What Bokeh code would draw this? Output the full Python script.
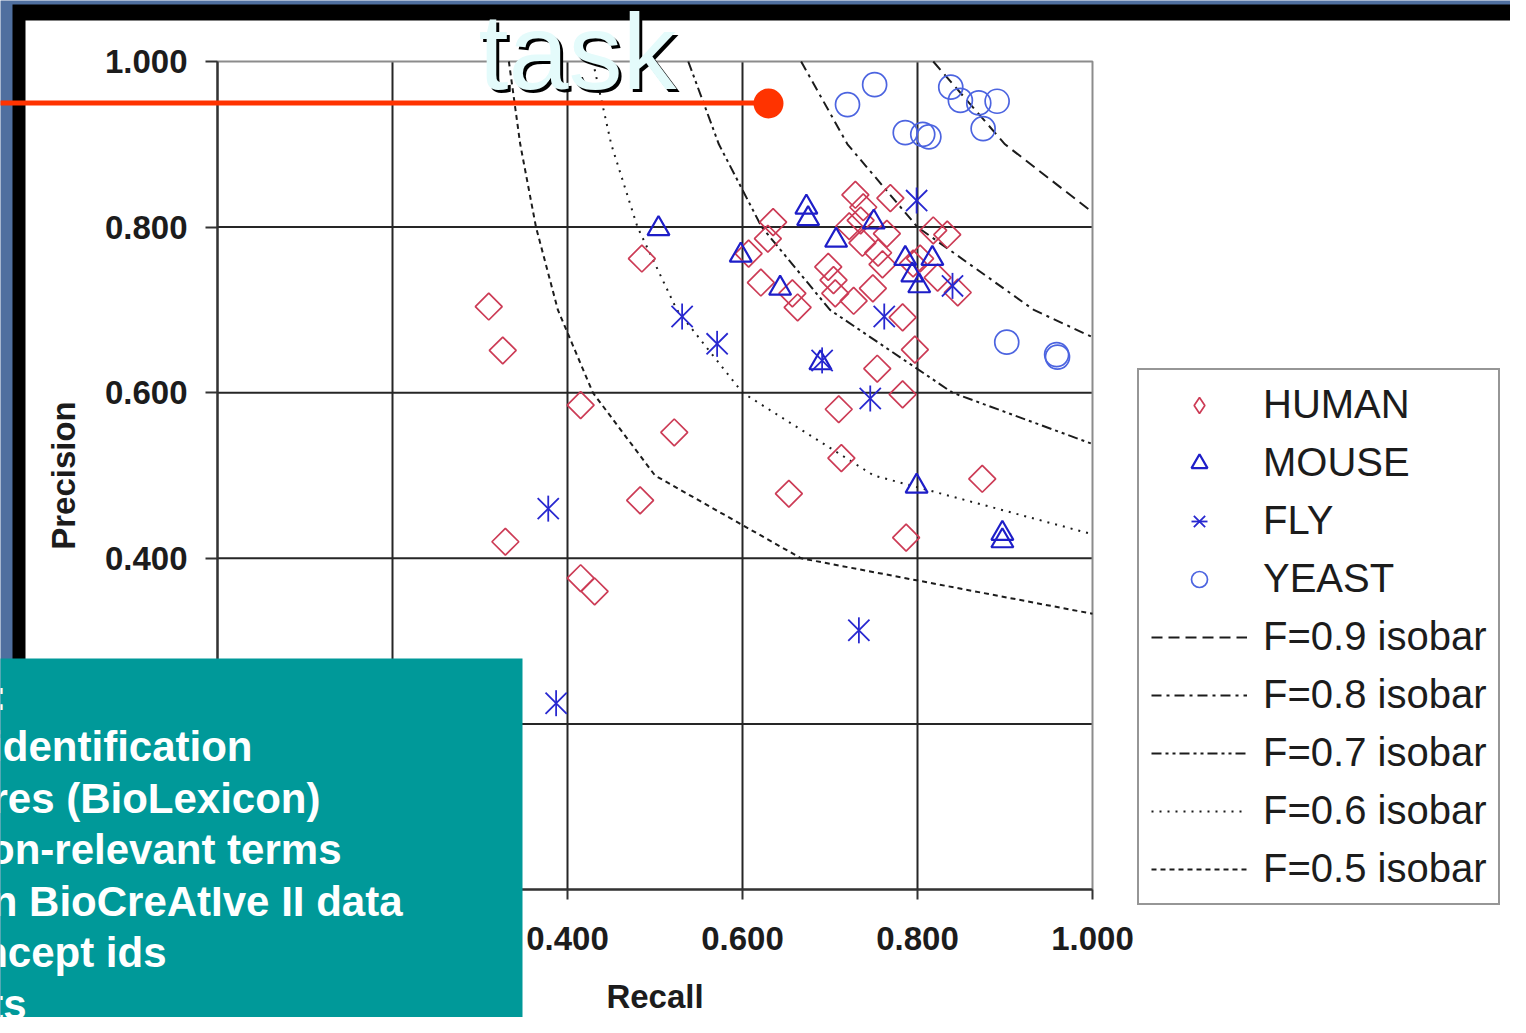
import numpy as np
from bokeh.plotting import figure
from bokeh.models import (Range1d, FixedTicker, NumeralTickFormatter, Legend, LegendItem,
                          BoxAnnotation, Label)
from bokeh.embed import file_html
from bokeh.resources import INLINE

# ---------------- data ----------------
human_recall = [0.310, 0.326, 0.485, 0.415, 0.522, 0.483, 0.329, 0.415, 0.431, 0.653,
                0.710, 0.713, 0.754, 0.783, 0.797, 0.787, 0.874, 0.635, 0.629, 0.607,
                0.621, 0.657, 0.663, 0.698, 0.704, 0.706, 0.727, 0.749, 0.760, 0.729,
                0.738, 0.769, 0.735, 0.737, 0.765, 0.783, 0.818, 0.834, 0.803, 0.823,
                0.846, 0.722, 0.755, 0.795]
human_precision = [0.704, 0.651, 0.762, 0.585, 0.552, 0.470, 0.420, 0.376, 0.360, 0.478,
                   0.580, 0.521, 0.629, 0.598, 0.652, 0.425, 0.496, 0.806, 0.786, 0.768,
                   0.733, 0.720, 0.703, 0.752, 0.736, 0.720, 0.711, 0.726, 0.755, 0.839,
                   0.824, 0.835, 0.808, 0.781, 0.792, 0.691, 0.796, 0.791, 0.762, 0.739,
                   0.721, 0.801, 0.769, 0.756]

mouse_recall = [0.504, 0.598, 0.673, 0.675, 0.707, 0.643, 0.750, 0.786, 0.817, 0.794,
                0.802, 0.689, 0.799, 0.897, 0.897]
mouse_precision = [0.798, 0.766, 0.824, 0.810, 0.784, 0.726, 0.806, 0.762, 0.762, 0.742,
                   0.729, 0.636, 0.487, 0.421, 0.430]

fly_recall = [0.378, 0.387, 0.531, 0.571, 0.691, 0.746, 0.733, 0.762, 0.799, 0.840]
fly_precision = [0.460, 0.225, 0.692, 0.659, 0.639, 0.593, 0.313, 0.692, 0.832, 0.729]

yeast_recall = [0.720, 0.751, 0.786, 0.806, 0.813, 0.838, 0.849, 0.870, 0.891, 0.875,
                0.902, 0.959, 0.960]
yeast_precision = [0.948, 0.972, 0.914, 0.912, 0.909, 0.969, 0.953, 0.950, 0.952, 0.919,
                   0.661, 0.646, 0.643]

iso09_recall = [0.818, 0.900, 1.000]
iso09_precision = [1.000, 0.900, 0.818]
iso08_recall = [0.667, 0.720, 0.800, 0.933, 1.000]
iso08_precision = [1.000, 0.900, 0.800, 0.700, 0.667]
iso07_recall = [0.538, 0.573, 0.622, 0.700, 0.840, 1.000]
iso07_precision = [1.000, 0.900, 0.800, 0.700, 0.600, 0.538]
iso06_recall = [0.429, 0.450, 0.480, 0.525, 0.600, 0.750, 1.000]
iso06_precision = [1.000, 0.900, 0.800, 0.700, 0.600, 0.500, 0.429]
iso05_recall = [0.333, 0.346, 0.364, 0.389, 0.429, 0.500, 0.667, 1.000]
iso05_precision = [1.000, 0.900, 0.800, 0.700, 0.600, 0.500, 0.400, 0.333]

axis_ticks = [0.0, 0.2, 0.4, 0.6, 0.8, 1.0]
series_labels = ["HUMAN", "MOUSE", "FLY", "YEAST"]
isobar_labels = ["F=0.9 isobar", "F=0.8 isobar", "F=0.7 isobar", "F=0.6 isobar", "F=0.5 isobar"]

# text of the slide's overlapping box, as far as it is visible
box_lines = [":", "identification", "res (BioLexicon)", "on-relevant terms",
             "n BioCreAtIve II data", "ncept ids", "ts"]
overlay_word = "task"

# ---------------- layout helpers (canvas pixels -> data units) ----------------
W, H = 1510, 1017
FRAME_L, FRAME_T, FRAME_W, FRAME_H = 217, 61, 875, 828


def dx(px):
    return (px - FRAME_L) / FRAME_W


def dy(py):
    return 1 - (py - FRAME_T) / FRAME_H


def base(py, size, k=0.32):
    # Label "alphabetic" baseline lands a fraction of an em lower than asked; compensate
    return dy(py - k * size)


FONT = "Liberation Sans"
INK = "#1c1c1c"

p = figure(width=W, height=H, x_range=Range1d(dx(0), dx(W)), y_range=Range1d(dy(H), dy(0)),
           output_backend="svg", toolbar_location=None,
           min_border_left=0, min_border_right=0, min_border_top=0, min_border_bottom=0,
           background_fill_color="#4f6f9f", border_fill_color="#4f6f9f")
p.outline_line_color = None
p.xgrid.visible = False
p.ygrid.visible = False

# slide picture frame
p.add_layout(BoxAnnotation(left=dx(12), right=dx(1520), top=dy(4), bottom=dy(1050),
                           fill_color="black", fill_alpha=1, line_color=None, level="image"))
p.add_layout(BoxAnnotation(left=dx(25), right=dx(1511), top=dy(20), bottom=dy(1025),
                           fill_color="white", fill_alpha=1, line_color=None, level="image"))

# grid (drawn through the data scales) and plot-area outline
grid_ticks = axis_ticks[:-1]
lo, hi = axis_ticks[0], axis_ticks[-1]
p.segment(x0=grid_ticks, y0=lo, x1=grid_ticks, y1=hi, line_color="#262626", line_width=2)
p.segment(x0=lo, y0=grid_ticks, x1=hi, y1=grid_ticks, line_color="#262626", line_width=2)
p.line([lo, hi, hi], [hi, hi, lo], line_color="#8c8c8c", line_width=2)

# axes, fixed at the plot area's edges
for ax, out, stand, lstand in ((p.xaxis[0], 10, 27, 25), (p.yaxis[0], 12, 18, 20)):
    ax.fixed_location = 0
    ax.bounds = (lo, hi)
    ax.ticker = FixedTicker(ticks=axis_ticks)
    ax.formatter = NumeralTickFormatter(format="0.000")
    ax.major_label_text_font = FONT
    ax.major_label_text_font_size = "33px"
    ax.major_label_text_font_style = "bold"
    ax.major_label_text_color = INK
    ax.major_label_standoff = stand
    ax.major_tick_out = out
    ax.major_tick_in = 0
    ax.minor_tick_line_color = None
    ax.major_tick_line_color = "#333333"
    ax.major_tick_line_width = 2
    ax.axis_line_color = "#333333"
    ax.axis_line_width = 2
    ax.axis_label_text_font = FONT
    ax.axis_label_text_font_size = "33px"
    ax.axis_label_text_font_style = "bold"
    ax.axis_label_text_color = INK
    ax.axis_label_standoff = lstand
p.xaxis.axis_label = "Recall"
p.yaxis.axis_label = "Precision"

# isobars
iso_specs = [(iso09_recall, iso09_precision, "11 6"),
             (iso08_recall, iso08_precision, "10 5 3 5"),
             (iso07_recall, iso07_precision, "10 4 3 4 3 4"),
             (iso06_recall, iso06_precision, "2 6"),
             (iso05_recall, iso05_precision, "5 4")]
iso_renderers = [p.line(r, pr, line_color=INK, line_width=2, line_dash=d) for r, pr, d in iso_specs]

# series
HUMAN_C, MOUSE_C, FLY_C, YEAST_C = "#cc3b55", "#1e1ec8", "#2828d0", "#4c64e0"
r_h = p.scatter(human_recall, human_precision, marker="square", angle=np.pi / 4, size=19,
                fill_color=None, line_color=HUMAN_C, line_width=1.7)
r_m = p.scatter(mouse_recall, mouse_precision, marker="triangle", size=22,
                fill_color=None, line_color=MOUSE_C, line_width=2.2)
r_f1 = p.scatter(fly_recall, fly_precision, marker="x", size=30,
                 line_color=FLY_C, line_width=1.8)
r_f2 = p.scatter(fly_recall, fly_precision, marker="dash", angle=np.pi / 2, size=26,
                 line_color=FLY_C, line_width=1.8)
r_y = p.scatter(yeast_recall, yeast_precision, marker="circle", size=24,
                fill_color=None, line_color=YEAST_C, line_width=1.7)
# legend key for the diamond markers (zero size on the plot; the legend sizes its own swatch)
r_h_key = p.scatter(human_recall, human_precision, marker="diamond", size=0, fill_color=None,
                    line_color=HUMAN_C, line_width=1.7)

items = [LegendItem(label=series_labels[0], renderers=[r_h_key]),
         LegendItem(label=series_labels[1], renderers=[r_m]),
         LegendItem(label=series_labels[2], renderers=[r_f1, r_f2]),
         LegendItem(label=series_labels[3], renderers=[r_y])]
items += [LegendItem(label=lab, renderers=[r]) for lab, r in zip(isobar_labels, iso_renderers)]

legend = Legend(items=items, location=(1137, H - 905), margin=0, padding=12, spacing=13,
                glyph_width=96, glyph_height=40, label_height=40, label_standoff=16,
                label_text_font=FONT, label_text_font_size="40px", label_text_color=INK,
                border_line_color="#2e2e2e", border_line_width=2.5,
                background_fill_color="white", background_fill_alpha=1)
p.add_layout(legend, "center")

# slide overlay: word, pointer line and dot
TASK_SIZE = 108
p.add_layout(Label(x=dx(481), y=base(96, TASK_SIZE, 0.39), text=overlay_word, text_font=FONT,
                   text_font_size=f"{TASK_SIZE}px", text_color="black",
                   text_baseline="alphabetic", level="overlay"))
p.add_layout(Label(x=dx(478), y=base(93, TASK_SIZE, 0.39), text=overlay_word, text_font=FONT,
                   text_font_size=f"{TASK_SIZE}px", text_color="#e4fbfb",
                   text_baseline="alphabetic", level="overlay"))
p.add_layout(BoxAnnotation(left=dx(-20), right=dx(768), top=dy(100), bottom=dy(105),
                           fill_color="#ff3300", fill_alpha=1, line_color=None, level="overlay"))
p.add_layout(BoxAnnotation(left=dx(753), right=dx(783), top=dy(88), bottom=dy(118), border_radius=15,
                           fill_color="#ff3300", fill_alpha=1, line_color=None, level="overlay"))

# slide overlay: teal text box
p.add_layout(BoxAnnotation(left=dx(-20), right=dx(522), top=dy(658), bottom=dy(1050),
                           fill_color="#009999", fill_alpha=1, line_color=None, level="overlay"))
BOX_SIZE = 42
box_right = [6, 252, 320, 341, 402, 166, 26]
for i, (txt, xr) in enumerate(zip(box_lines, box_right)):
    p.add_layout(Label(x=dx(xr), y=base(708 + 51.5 * i, BOX_SIZE), text=txt, text_align="right",
                       text_baseline="alphabetic", text_font=FONT, text_font_size=f"{BOX_SIZE}px",
                       text_font_style="bold", text_color="white", level="overlay"))

open("out.html", "w").write(file_html(p, INLINE))
